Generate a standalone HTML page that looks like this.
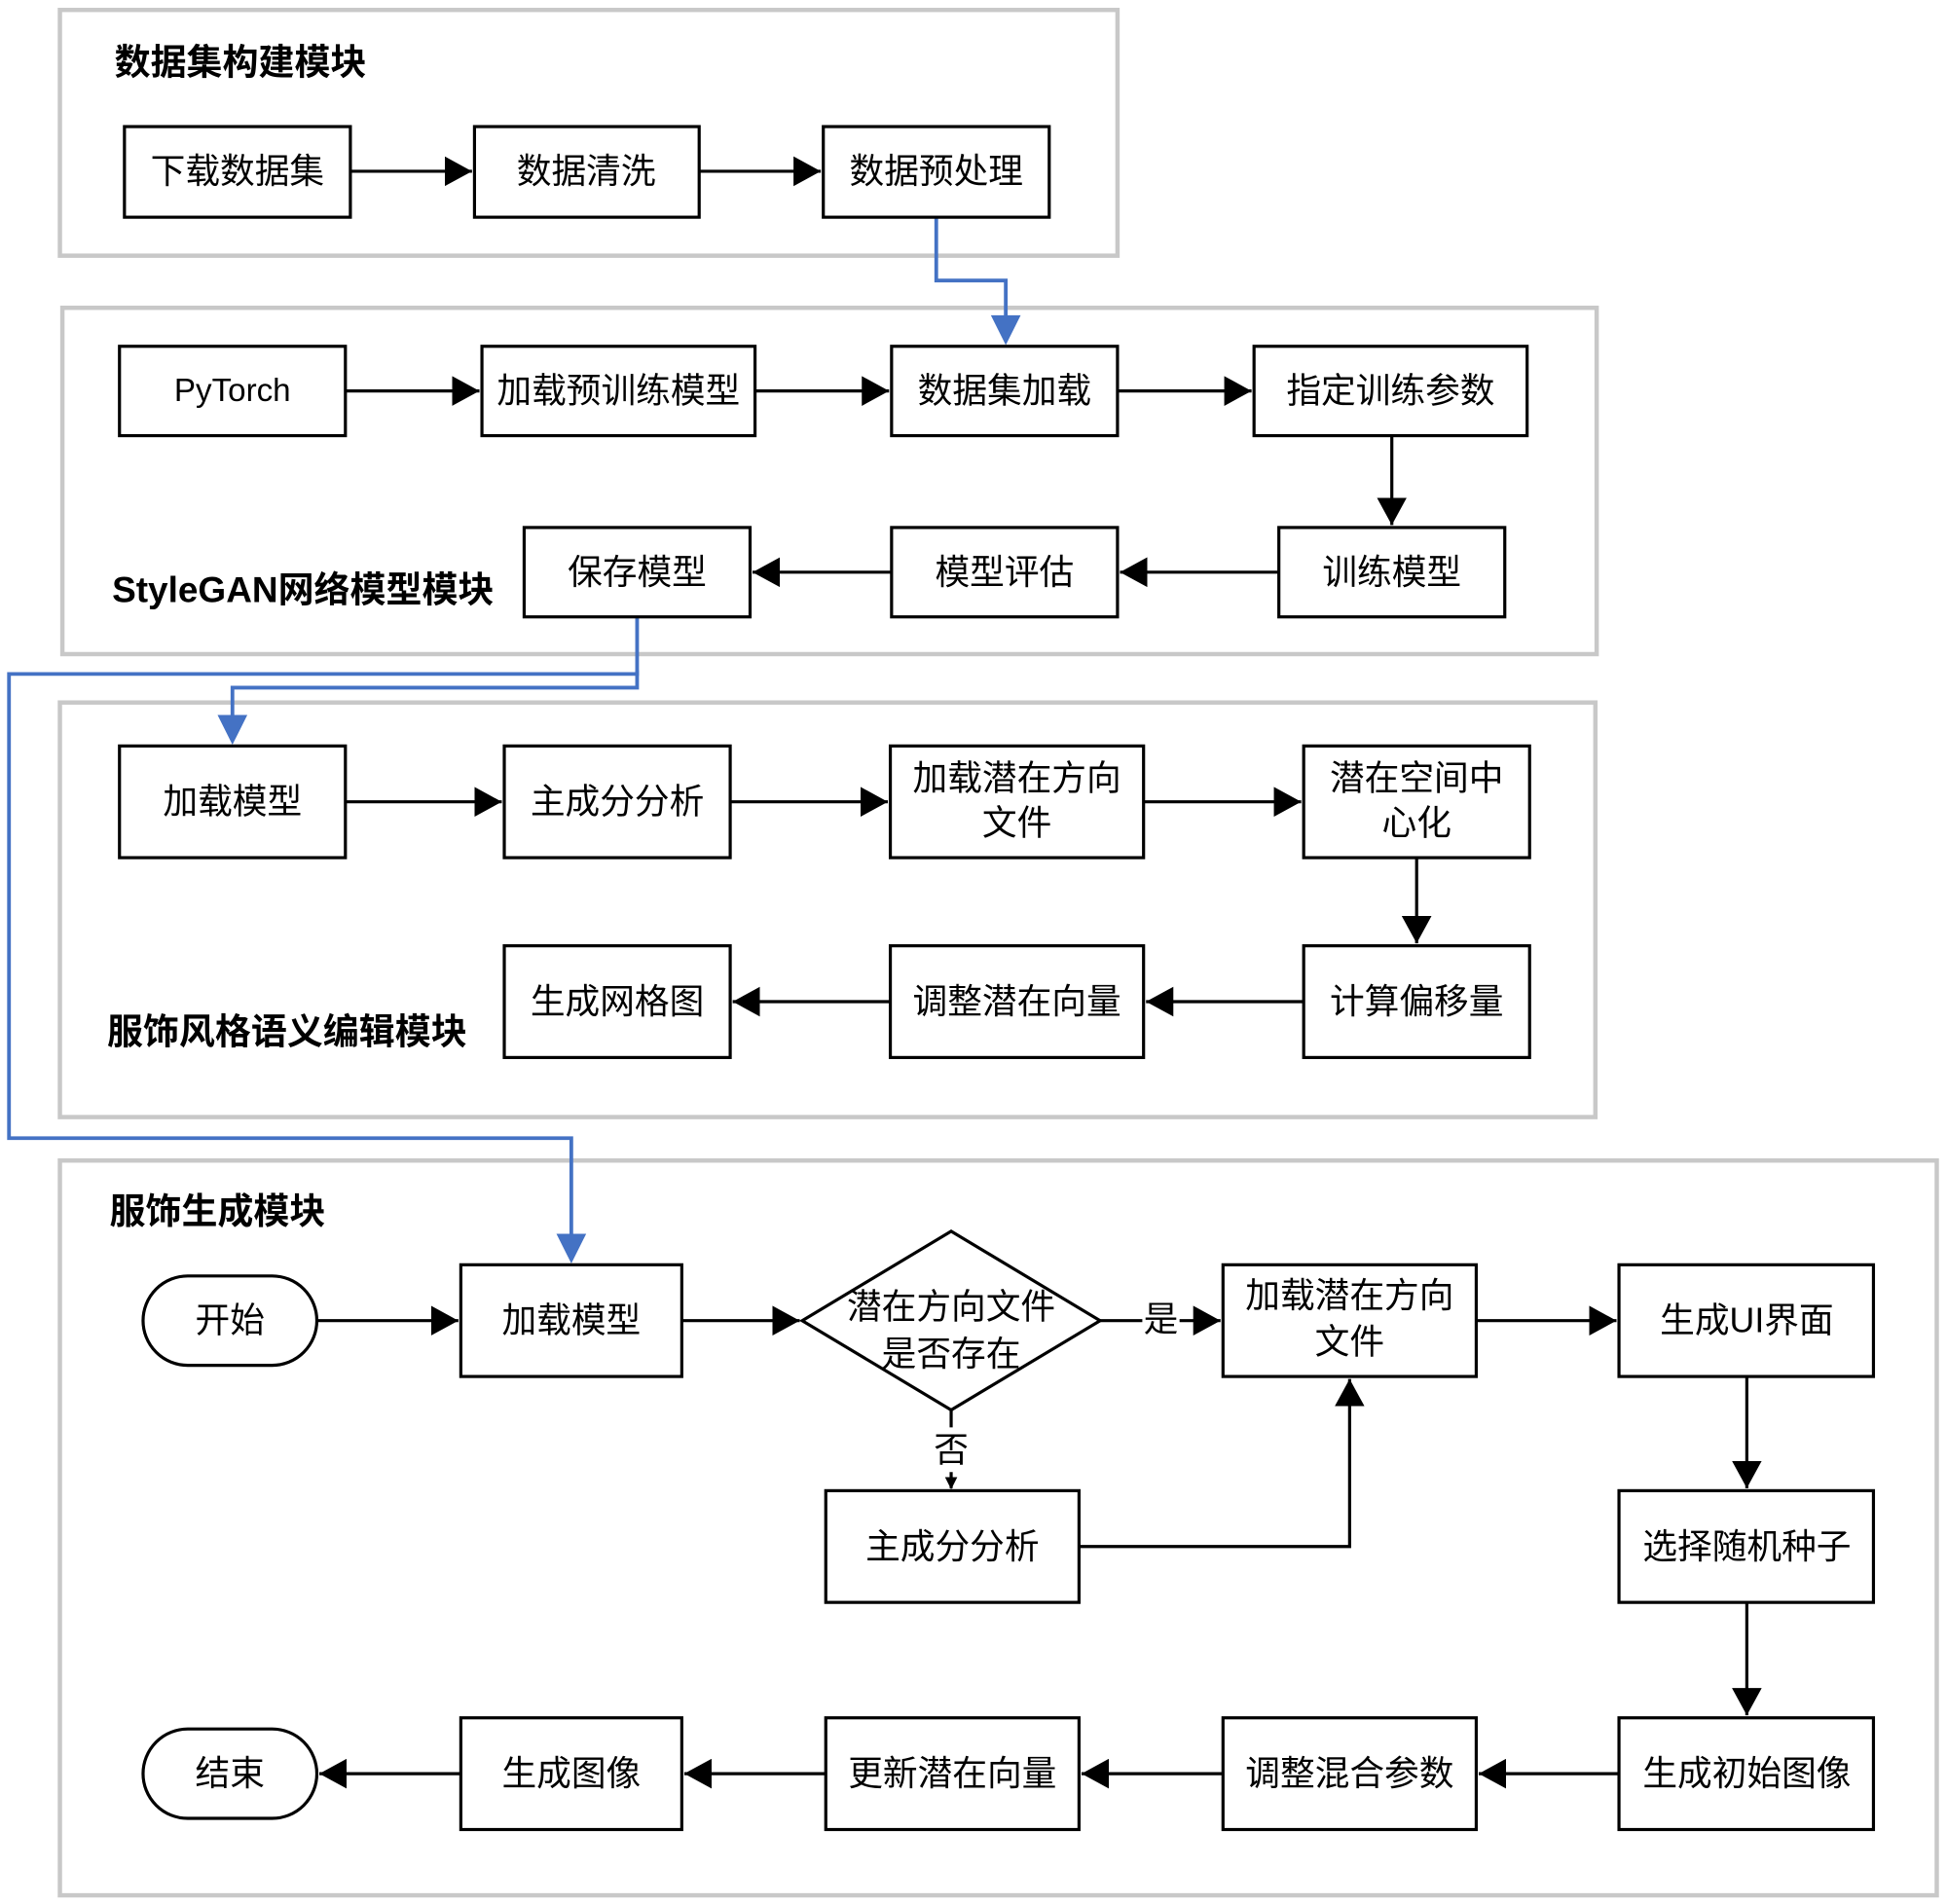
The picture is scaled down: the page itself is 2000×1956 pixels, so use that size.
<!DOCTYPE html>
<html><head><meta charset="utf-8"><style>
html,body{margin:0;padding:0;background:#fff;}
svg{display:block;}
text{font-family:"Liberation Sans","Noto Sans CJK SC",sans-serif;fill:#000;}
.t{font-size:28px;text-anchor:middle;dominant-baseline:central;}
.h{font-size:29px;font-weight:bold;}
.b{fill:#fff;stroke:#000;stroke-width:2.5;}
.m{fill:none;stroke:#c8c8c8;stroke-width:3.5;}
.l{fill:none;stroke:#000;stroke-width:2.5;}
.bl{fill:none;stroke:#4472c4;stroke-width:3;}
</style></head><body>
<svg width="2000" height="1956" viewBox="0 0 1568 1534" xmlns="http://www.w3.org/2000/svg">
<defs>
<marker id="a" markerWidth="10" markerHeight="10" refX="9" refY="5" orient="auto" markerUnits="userSpaceOnUse" viewBox="0 0 10 10"><path d="M0,0 L10,5 L0,10z" fill="#000"/></marker>
<marker id="as" markerWidth="22" markerHeight="24" refX="22" refY="12" orient="auto" markerUnits="userSpaceOnUse"><path d="M0,0 L22,12 L0,24z" fill="#000"/></marker>
</defs>
<rect class="m" x="48" y="8" width="852" height="198"/>
<rect class="m" x="50" y="248" width="1236" height="279"/>
<rect class="m" x="48" y="566" width="1237" height="334"/>
<rect class="m" x="48" y="935" width="1512" height="592"/>
<text class="h" x="92" y="60">数据集构建模块</text>
<text class="h" x="90" y="485">StyleGAN网络模型模块</text>
<text class="h" x="86" y="841">服饰风格语义编辑模块</text>
<text class="h" x="88" y="986">服饰生成模块</text>

<path class="bl" d="M754,175 V226 H810 V258"/>
<path d="M798,254 L822,254 L810,278z" fill="#4472c4"/>
<path class="bl" d="M513,497 V554 H187 V580"/>
<path d="M175,576 L199,576 L187,600z" fill="#4472c4"/>
<path class="bl" d="M513,540 V543 H7 V917 H460 V998"/>
<path d="M448,994 L472,994 L460,1018z" fill="#4472c4"/>

<g class="l">
<path d="M282,138 H380" marker-end="url(#as)"/>
<path d="M563,138 H661" marker-end="url(#as)"/>
<path d="M278,315 H386" marker-end="url(#as)"/>
<path d="M608,315 H716" marker-end="url(#as)"/>
<path d="M900,315 H1008" marker-end="url(#as)"/>
<path d="M1121,351 V423" marker-end="url(#as)"/>
<path d="M1030,461 H902" marker-end="url(#as)"/>
<path d="M718,461 H606" marker-end="url(#as)"/>
<path d="M278,646 H404" marker-end="url(#as)"/>
<path d="M588,646 H715" marker-end="url(#as)"/>
<path d="M921,646 H1048" marker-end="url(#as)"/>
<path d="M1141,691 V760" marker-end="url(#as)"/>
<path d="M1050,807 H923" marker-end="url(#as)"/>
<path d="M717,807 H590" marker-end="url(#as)"/>
<path d="M255,1064 H369" marker-end="url(#as)"/>
<path d="M549,1064 H644" marker-end="url(#as)"/>
<path d="M886,1064 H920"/>
<path d="M950,1064 H983" marker-end="url(#as)"/>
<path d="M1189,1064 H1302" marker-end="url(#as)"/>
<path d="M766,1136 V1150"/>
<path d="M766,1186 V1199" marker-end="url(#a)"/>
<path d="M869,1246 H1087 V1111" marker-end="url(#as)"/>
<path d="M1407,1109 V1199" marker-end="url(#as)"/>
<path d="M1407,1291 V1382" marker-end="url(#as)"/>
<path d="M1304,1429 H1191" marker-end="url(#as)"/>
<path d="M985,1429 H871" marker-end="url(#as)"/>
<path d="M665,1429 H551" marker-end="url(#as)"/>
<path d="M371,1429 H257" marker-end="url(#as)"/>
</g>
<text class="t" x="935" y="1063">是</text>
<text class="t" x="766" y="1168">否</text>

<g>
<rect class="b" x="100" y="102" width="182" height="73"/><text class="t" x="191" y="138">下载数据集</text>
<rect class="b" x="382" y="102" width="181" height="73"/><text class="t" x="472" y="138">数据清洗</text>
<rect class="b" x="663" y="102" width="182" height="73"/><text class="t" x="754" y="138">数据预处理</text>

<rect class="b" x="96" y="279" width="182" height="72"/><text class="t" x="187" y="315" style="font-size:26px">PyTorch</text>
<rect class="b" x="388" y="279" width="220" height="72"/><text class="t" x="498" y="315">加载预训练模型</text>
<rect class="b" x="718" y="279" width="182" height="72"/><text class="t" x="809" y="315">数据集加载</text>
<rect class="b" x="1010" y="279" width="220" height="72"/><text class="t" x="1120" y="315">指定训练参数</text>
<rect class="b" x="422" y="425" width="182" height="72"/><text class="t" x="513" y="461">保存模型</text>
<rect class="b" x="718" y="425" width="182" height="72"/><text class="t" x="809" y="461">模型评估</text>
<rect class="b" x="1030" y="425" width="182" height="72"/><text class="t" x="1121" y="461">训练模型</text>

<rect class="b" x="96" y="601" width="182" height="90"/><text class="t" x="187" y="646">加载模型</text>
<rect class="b" x="406" y="601" width="182" height="90"/><text class="t" x="497" y="646">主成分分析</text>
<rect class="b" x="717" y="601" width="204" height="90"/><text class="t" x="819" y="627">加载潜在方向</text><text class="t" x="819" y="663">文件</text>
<rect class="b" x="1050" y="601" width="182" height="90"/><text class="t" x="1141" y="627">潜在空间中</text><text class="t" x="1141" y="663">心化</text>
<rect class="b" x="406" y="762" width="182" height="90"/><text class="t" x="497" y="807">生成网格图</text>
<rect class="b" x="717" y="762" width="204" height="90"/><text class="t" x="819" y="807">调整潜在向量</text>
<rect class="b" x="1050" y="762" width="182" height="90"/><text class="t" x="1141" y="807">计算偏移量</text>

<rect class="b" x="115" y="1028" width="140" height="72" rx="36"/><text class="t" x="185" y="1064">开始</text>
<rect class="b" x="371" y="1019" width="178" height="90"/><text class="t" x="460" y="1064">加载模型</text>
<path class="b" d="M766,992 L886,1064 L766,1136 L646,1064z"/><text class="t" x="766" y="1053">潜在方向文件</text><text class="t" x="766" y="1091">是否存在</text>
<rect class="b" x="985" y="1019" width="204" height="90"/><text class="t" x="1087" y="1044">加载潜在方向</text><text class="t" x="1087" y="1081">文件</text>
<rect class="b" x="1304" y="1019" width="205" height="90"/><text class="t" x="1407" y="1064">生成UI界面</text>
<rect class="b" x="665" y="1201" width="204" height="90"/><text class="t" x="767" y="1246">主成分分析</text>
<rect class="b" x="1304" y="1201" width="205" height="90"/><text class="t" x="1407" y="1246">选择随机种子</text>
<rect class="b" x="1304" y="1384" width="205" height="90"/><text class="t" x="1407" y="1429">生成初始图像</text>
<rect class="b" x="985" y="1384" width="204" height="90"/><text class="t" x="1087" y="1429">调整混合参数</text>
<rect class="b" x="665" y="1384" width="204" height="90"/><text class="t" x="767" y="1429">更新潜在向量</text>
<rect class="b" x="371" y="1384" width="178" height="90"/><text class="t" x="460" y="1429">生成图像</text>
<rect class="b" x="115" y="1393" width="140" height="72" rx="36"/><text class="t" x="185" y="1429">结束</text>
</g>
</svg>
</body></html>
